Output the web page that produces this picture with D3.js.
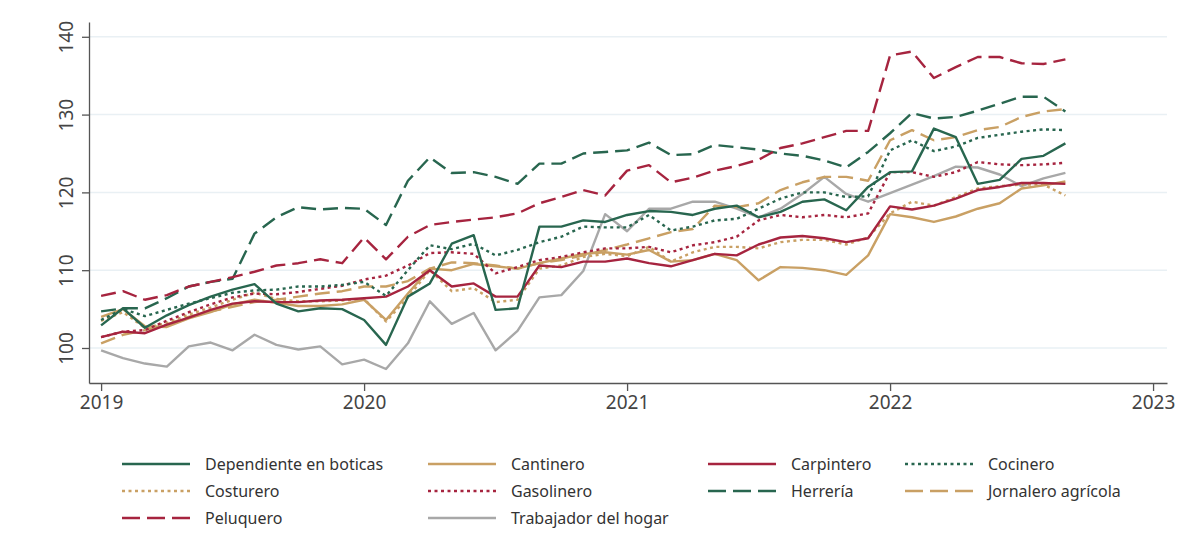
<!DOCTYPE html>
<html>
<head>
<meta charset="utf-8">
<script src="https://cdn.jsdelivr.net/npm/d3@7"></script>
<style>
  body { margin: 0; background: #fff; }
  svg text { font-family: "Noto Sans", "DejaVu Sans", sans-serif; }
</style>
</head>
<body>
<svg id="chart"></svg>
<script>
// data: monthly index, Jan 2019 .. Sep 2022
const startYear = 2019;
const yTicks = [100, 110, 120, 130, 140];
const xTicks = [2019, 2020, 2021, 2022, 2023];

const dependiente = [102.9,105.1,102.6,104.2,105.5,106.6,107.5,108.2,105.7,104.7,105.1,105.0,103.6,100.4,106.6,108.3,113.4,114.5,104.9,105.1,115.6,115.6,116.4,116.2,117.1,117.6,117.5,117.1,117.9,118.3,116.8,117.5,118.8,119.1,117.7,120.7,122.6,122.7,128.2,127.1,121.1,121.6,124.3,124.7,126.3];
const cantinero = [104.0,105.0,102.8,102.7,103.8,104.6,105.6,106.2,105.8,105.4,105.4,105.6,106.2,103.6,107.0,110.2,110.0,110.8,110.5,110.2,110.9,111.5,112.1,112.3,112.0,112.6,111.1,111.3,112.1,111.3,108.7,110.4,110.3,110.0,109.4,111.9,117.2,116.8,116.2,116.9,117.9,118.6,120.5,120.9,121.4];
const carpintero = [101.4,102.1,101.9,103.0,103.9,104.9,105.7,106.0,105.9,105.9,106.1,106.2,106.4,106.6,107.9,110.0,107.9,108.3,106.6,106.6,110.6,110.4,111.1,111.1,111.5,110.9,110.5,111.3,112.1,111.9,113.3,114.2,114.4,114.1,113.6,114.1,118.2,117.8,118.3,119.2,120.3,120.7,121.2,121.2,121.1];
const cocinero = [103.6,105.0,104.1,104.9,105.7,106.4,107.1,107.4,107.5,107.9,107.9,108.1,108.5,106.7,110.0,113.2,112.7,113.4,111.9,112.6,113.6,114.3,115.6,115.5,115.5,117.1,115.1,115.6,116.4,116.6,117.9,119.2,120.0,120.0,119.4,119.5,125.4,126.7,125.3,125.9,127.0,127.4,127.8,128.1,128.0];
const costurero = [103.5,104.6,102.6,103.2,104.3,105.2,106.2,107.1,106.3,106.0,106.0,106.1,106.3,103.4,106.5,110.0,107.3,107.7,105.9,106.2,110.2,110.6,111.7,112.1,111.8,113.0,111.1,112.3,113.0,113.0,112.8,113.6,113.9,113.9,113.3,114.2,117.3,118.8,118.3,119.4,120.5,120.8,121.0,121.0,119.6];
const gasolinero = [101.4,102.1,102.3,103.5,104.6,105.6,106.5,107.0,106.9,107.2,107.6,108.0,108.8,109.3,110.6,112.2,112.3,112.1,109.6,110.4,111.3,111.7,112.3,112.8,112.8,113.0,112.3,113.2,113.6,114.3,116.4,117.1,116.8,117.1,116.8,117.3,122.6,122.6,122.0,122.6,123.9,123.6,123.5,123.6,123.8];
const herreria = [104.7,105.1,105.1,106.4,107.9,108.5,108.9,114.7,116.8,118.1,117.8,118.0,117.9,115.8,121.5,124.5,122.5,122.6,122.0,121.1,123.7,123.7,125.0,125.2,125.4,126.4,124.8,124.9,126.1,125.8,125.5,125.0,124.7,124.1,123.2,125.2,127.6,130.2,129.5,129.7,130.5,131.4,132.3,132.3,130.4];
const jornalero = [100.6,101.7,102.3,103.0,104.0,104.7,105.3,105.9,106.2,106.6,107.0,107.3,107.9,107.9,108.6,110.2,111.0,110.9,110.6,110.2,110.9,111.3,111.9,112.6,113.3,114.1,114.9,115.3,118.3,118.1,118.6,120.3,121.3,122.0,122.0,121.5,126.7,128.0,126.7,127.1,128.0,128.4,129.7,130.4,130.7];
const peluquero = [106.7,107.3,106.2,106.8,107.9,108.5,109.1,109.8,110.6,110.9,111.4,110.9,114.2,111.4,114.3,115.8,116.2,116.5,116.8,117.3,118.6,119.4,120.3,119.6,122.8,123.5,121.3,121.9,122.8,123.4,124.2,125.7,126.3,127.1,127.9,127.9,137.6,138.1,134.7,136.1,137.4,137.4,136.6,136.5,137.1];
const hogar = [99.7,98.7,98.0,97.6,100.2,100.7,99.7,101.7,100.4,99.8,100.2,97.9,98.5,97.3,100.6,106.0,103.1,104.5,99.7,102.2,106.5,106.8,109.9,117.2,115.0,117.9,117.9,118.8,118.8,117.9,116.8,117.9,119.8,122.0,119.8,118.8,119.9,121.0,122.1,123.3,123.2,122.3,120.8,121.8,122.5];

const names = ["Dependiente en boticas", "Cantinero", "Carpintero", "Cocinero", "Costurero", "Gasolinero", "Herrería", "Jornalero agrícola", "Peluquero", "Trabajador del hogar"];
const values = [dependiente, cantinero, carpintero, cocinero, costurero, gasolinero, herreria, jornalero, peluquero, hogar];

const green = "#28664f", tan = "#c9a064", red = "#a6243f", grey = "#a8a8a8";
const colors = [green, tan, red, green, tan, red, green, tan, red, grey];
const solid = null, dotted = "3,3.5", dashed = "15,7";
const dashes = [solid, solid, solid, dotted, dotted, dotted, dashed, dashed, dashed, solid];

const W = 1186, H = 558;
const svg = d3.select("#chart").attr("width", W).attr("height", H);

const x = d3.scaleLinear().domain([2018.954, 2023.053]).range([89, 1167]);
const y = d3.scaleLinear().domain([95.5, 141.9]).range([383, 22]);

// gridlines
svg.append("g")
  .selectAll("line")
  .data(yTicks)
  .join("line")
  .attr("x1", 89).attr("x2", 1167)
  .attr("y1", d => y(d)).attr("y2", d => y(d))
  .attr("stroke", "#e9f0f4")
  .attr("stroke-width", 1.5);

// axes
const yAxis = svg.append("g")
  .attr("transform", "translate(89,0)")
  .call(d3.axisLeft(y).tickValues(yTicks).tickSize(7).tickSizeOuter(0));
yAxis.selectAll("text")
  .attr("transform", "rotate(-90)")
  .attr("x", 0).attr("y", -16).attr("dy", 0)
  .attr("text-anchor", "middle");

const xAxis = svg.append("g")
  .attr("transform", "translate(0,383)")
  .call(d3.axisBottom(x).tickValues(xTicks).tickFormat(d3.format("d")).tickSize(8).tickSizeOuter(0));
xAxis.selectAll("text").attr("y", 13).attr("dy", "0.71em");

svg.selectAll(".domain").attr("stroke", "#555").attr("stroke-width", 1.3);
svg.selectAll(".tick line").attr("stroke", "#555").attr("stroke-width", 1.3);
svg.selectAll(".tick text").attr("fill", "#444").attr("font-size", 19);

// lines
const line = d3.line()
  .x((d, i) => x(startYear + i / 12))
  .y(d => y(d));

const drawOrder = [9, 4, 1, 7, 5, 2, 3, 0, 6, 8];
svg.append("g")
  .selectAll("path")
  .data(drawOrder)
  .join("path")
  .attr("d", k => line(values[k]))
  .attr("fill", "none")
  .attr("stroke", k => colors[k])
  .attr("stroke-width", 2.4)
  .attr("stroke-dasharray", k => dashes[k])
  .attr("stroke-linejoin", "round");

// legend
const colX = [122, 428, 708, 905];
const rowY = [464, 491, 518];
const legend = svg.append("g")
  .selectAll("g")
  .data(names)
  .join("g")
  .attr("transform", (d, i) => `translate(${colX[i % 4]},${rowY[Math.floor(i / 4)]})`);

legend.append("line")
  .attr("x1", 0).attr("x2", 68)
  .attr("stroke", (d, i) => colors[i])
  .attr("stroke-width", 2.4)
  .attr("stroke-dasharray", (d, i) => dashes[i] === dashed ? "18,7" : dashes[i]);

legend.append("text")
  .attr("x", 83).attr("dy", "0.35em")
  .attr("font-size", 16)
  .attr("fill", "#333")
  .text(d => d);
</script>
</body>
</html>
